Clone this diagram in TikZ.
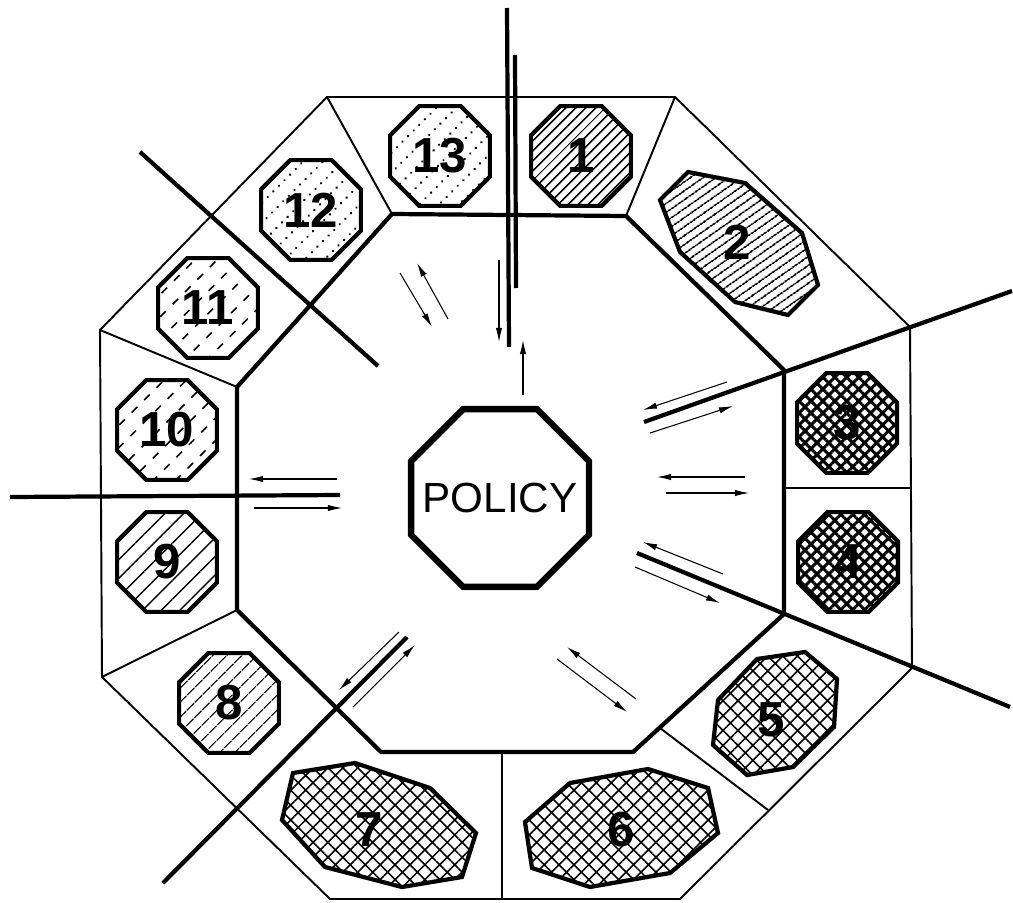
\documentclass[tikz,border=0pt]{standalone}
\usepackage{fontspec}
\setmainfont{Liberation Sans}
\usetikzlibrary{shapes.geometric,arrows.meta,patterns.meta}

\tikzdeclarepattern{
  name=dashrows,
  bounding box={(-0.1pt,-0.6pt) and (4.6pt,0.6pt)},
  tile size={(10pt,9pt)},
  tile transformation={rotate=45},
  code={\draw[line width=0.9pt] (0pt,0pt) -- (4.5pt,0pt);}
}
\tikzdeclarepattern{
  name=dotrows,
  bounding box={(-0.9pt,-0.9pt) and (0.9pt,0.9pt)},
  tile size={(4.5pt,8pt)},
  tile transformation={rotate=45},
  code={\fill (0pt,0pt) circle (0.75pt);}
}

\begin{document}
\begin{tikzpicture}[x=0.02cm, y=-0.02cm,
    outer/.style={line width=1.1pt, line join=miter},
    inner/.style={line width=2.4pt, line join=miter},
    divider/.style={line width=2.4pt},
    arr/.style={-{Latex[length=8pt,width=3.6pt]}, line width=0.6pt},
    cell/.style={regular polygon, regular polygon sides=8, minimum size=2.16cm, inner sep=0pt, draw, line width=2.4pt, font=\fontsize{28}{28}\selectfont\bfseries},
    blob/.style={draw, line width=2.4pt, line join=miter},
    num/.style={font=\fontsize{28}{28}\selectfont\bfseries},
    policy/.style={regular polygon, regular polygon sides=8, minimum size=3.85cm, inner sep=0pt, draw, line width=3.6pt},
    policytext/.style={font=\fontsize{24}{24}\selectfont},
    hatch/.style={pattern={Lines[angle=45, distance=4pt, line width=1pt]}},
    widehatch/.style={pattern={Lines[angle=45, distance=6.5pt, line width=0.8pt]}},
    widerhatch/.style={pattern={Lines[angle=45, distance=7.5pt, line width=0.8pt]}},
    dashhatch/.style={pattern=dashrows},
    dothatch/.style={pattern=dotrows},
    cross/.style={pattern={Hatch[angle=45, distance=6pt, line width=0.9pt]}},
    densecross/.style={pattern={Hatch[angle=45, distance=4.8pt, line width=1.7pt]}}]

    \fill[white] (0,0) rectangle (1013,902);
    \useasboundingbox (0,0) rectangle (1013,902);

    \draw[outer] (327,97) -- (675,97) -- (910,327) -- (912,668) -- (680,899) -- (330,899) -- (102,677) -- (100,330) -- cycle;
    \draw[inner] (392,214) -- (626,216) -- (784,370) -- (784,614) -- (633,752) -- (381,752) -- (237,610) -- (237,387) -- cycle;

    \draw[outer] (675,97) -- (626,216);
    \draw[outer] (912,488) -- (784,488);
    \draw[outer] (660,728) -- (768,810);
    \draw[outer] (502,753) -- (502,899);
    \draw[outer] (237,610) -- (102,677);
    \draw[outer] (100,330) -- (237,387);
    \draw[outer] (327,97) -- (392,214);

    \draw[divider] (507,8) -- (509,347);
    \draw[divider] (515,55) -- (516,288);
    \draw[divider] (1012,291) -- (644,422);
    \draw[divider] (1010,707) -- (637,553);
    \draw[divider] (163,883) -- (407,637);
    \draw[divider] (10,497) -- (340,495);
    \draw[divider] (140,152) -- (378,366);

    \node[cell, hatch] (c1) at (581,156) {1};
    \node[cell, densecross] (c3) at (847,423) {3};
    \node[cell, densecross] (c4) at (848,562) {4};
    \node[cell, widehatch] (c8) at (229,703) {8};
    \node[cell, widerhatch] (c9) at (167,562) {9};
    \node[cell, dashhatch] (c10) at (167,430) {10};
    \node[cell, dashhatch] (c11) at (208,308) {11};
    \node[cell, dothatch] (c12) at (311,210) {12};
    \node[cell, dothatch] (c13) at (440,156) {13};

    \draw[blob, pattern={Lines[angle=35, distance=4pt, line width=1pt]}] (688,172) -- (745,183) -- (802,233) -- (818,285) -- (788,315) -- (735,302) -- (680,252) -- (660,200) -- cycle;
    \node[num] (c2) at (737,242) {2};
    \draw[blob, cross] (718,700) -- (757,659) -- (805,652) -- (837,679) -- (834,727) -- (793,767) -- (747,775) -- (713,745) -- cycle;
    \node[num] (c5) at (771,720) {5};
    \draw[blob, cross] (525,822) -- (570,783) -- (648,769) -- (708,788) -- (718,833) -- (670,873) -- (590,887) -- (532,868) -- cycle;
    \node[num] (c6) at (621,830) {6};
    \draw[blob, cross] (293,773) -- (355,763) -- (430,788) -- (476,833) -- (462,877) -- (402,887) -- (325,867) -- (282,820) -- cycle;
    \node[num] (c7) at (369,830) {7};

    \node[policy, label={[name=policylabel, policytext]center:POLICY}] (policy) at (500,498) {};

    \draw[arr] (499,260) -- (499,342);
    \draw[arr] (523,395) -- (523,340);
    \draw[arr] (400,273) -- (432,327);
    \draw[arr] (448,319) -- (417,263);
    \draw[arr] (727,382) -- (643,410);
    \draw[arr] (650,433) -- (733,406);
    \draw[arr] (745,477) -- (657,477);
    \draw[arr] (666,493) -- (749,493);
    \draw[arr] (723,574) -- (643,542);
    \draw[arr] (635,567) -- (720,603);
    \draw[arr] (636,699) -- (567,647);
    \draw[arr] (557,659) -- (627,712);
    \draw[arr] (399,632) -- (339,690);
    \draw[arr] (353,707) -- (415,645);
    \draw[arr] (337,479) -- (249,479);
    \draw[arr] (254,508) -- (342,508);

\end{tikzpicture}
\end{document}
